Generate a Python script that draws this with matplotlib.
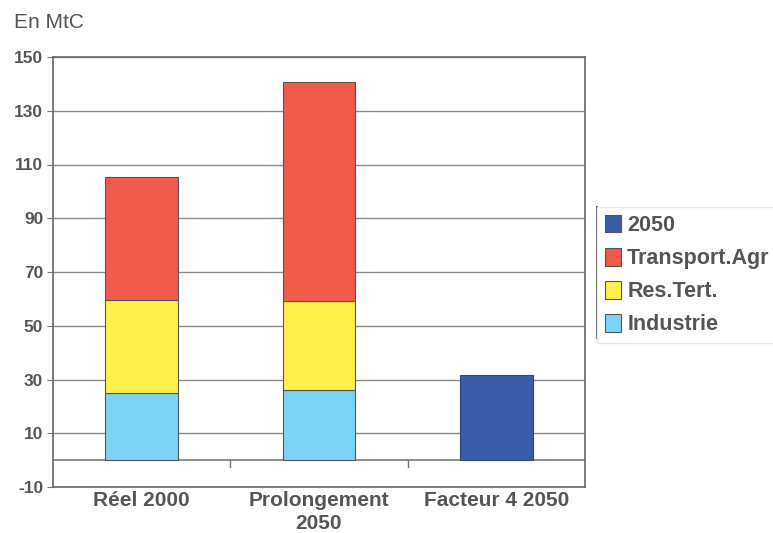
import matplotlib
matplotlib.use("Agg")
import matplotlib.pyplot as plt
from matplotlib.patches import Patch
from matplotlib.lines import Line2D

plt.rcParams["axes.unicode_minus"] = False

categories = ["Réel 2000", "Prolongement\n2050", "Facteur 4 2050"]
industrie = [25.0, 26.0, 0.0]
res_tert = [34.5, 33.2, 0.0]
transport = [45.8, 81.4, 0.0]
an2050 = [0.0, 0.0, 31.8]
yticks = [-10, 10, 30, 50, 70, 90, 110, 130, 150]

c_ind = "#7DD3F5"
c_res = "#FFF04C"
c_tra = "#F05A4B"
c_2050 = "#3A5BA8"
txt = "#555555"
fam = ["Liberation Sans", "DejaVu Sans"]

fig = plt.figure(figsize=(7.73, 5.33), dpi=100)
ax = fig.add_axes([53/773, 46/533, 532/773, 430/533])

x = list(range(len(categories)))
w = 0.41
ec = "#555555"
ax.bar(x[:2], industrie[:2], w, color=c_ind, edgecolor=ec, linewidth=0.8, zorder=3)
b2 = [industrie[i] for i in range(2)]
ax.bar(x[:2], res_tert[:2], w, bottom=b2, color=c_res, edgecolor=ec, linewidth=0.8, zorder=3)
b3 = [industrie[i] + res_tert[i] for i in range(2)]
ax.bar(x[:2], transport[:2], w, bottom=b3, color=c_tra, edgecolor=ec, linewidth=0.8, zorder=3)
ax.bar(x[2:], an2050[2:], w, color=c_2050, edgecolor="#2c4680", linewidth=0.8, zorder=3)

ax.set_xlim(-0.5, 2.5)
ax.set_ylim(-10, 150)
ax.set_yticks(yticks)
ax.yaxis.grid(True, color="#8a8a8a", linewidth=1.0, zorder=0)
ax.set_axisbelow(True)
ax.axhline(0, color="#777777", linewidth=1.2, zorder=2)
for xb in [0.5, 1.5]:
    ax.plot([xb, xb], [0, -2.6], color="#777777", linewidth=1.0, zorder=2, clip_on=False)

for s in ["left", "bottom", "right", "top"]:
    ax.spines[s].set_color("#666666")
    ax.spines[s].set_linewidth(1.2)

ax.set_xticks(x)
ax.set_xticklabels(categories, fontsize=15, fontweight="bold", color=txt, family=fam, linespacing=1.25)
ax.tick_params(axis="x", length=0, pad=3)
ax.tick_params(axis="y", length=4, color="#777777", pad=3)
for lab in ax.get_yticklabels():
    lab.set_fontsize(12.5)
    lab.set_fontweight("bold")
    lab.set_color(txt)
    lab.set_family(fam)

fig.text(14/773, 1 - 22/533, "En MtC", fontsize=15, color=txt, family=fam, va="center", ha="left")

handles = [Patch(facecolor=c_2050, edgecolor="#555555", linewidth=0.8),
           Patch(facecolor=c_tra, edgecolor="#555555", linewidth=0.8),
           Patch(facecolor=c_res, edgecolor="#555555", linewidth=0.8),
           Patch(facecolor=c_ind, edgecolor="#555555", linewidth=0.8)]
labels = ["2050", "Transport.Agr", "Res.Tert.", "Industrie"]
leg = fig.legend(handles, labels, loc="upper left", bbox_to_anchor=(597/773, 1 - 207/533),
                 frameon=True, fancybox=False, edgecolor="#e6e6e6", framealpha=1,
                 handlelength=0.75, handleheight=0.9, handletextpad=0.3, labelspacing=0.55,
                 borderpad=0.35, borderaxespad=0,
                 prop={"family": fam, "weight": "bold", "size": 15.5})
for t in leg.get_texts():
    t.set_color(txt)
fig.add_artist(Line2D([597/773, 597/773], [1 - 207/533, 1 - 338/533], color="#666666", linewidth=1.5,
                      transform=fig.transFigure))

fig.savefig("out.png", dpi=100)
